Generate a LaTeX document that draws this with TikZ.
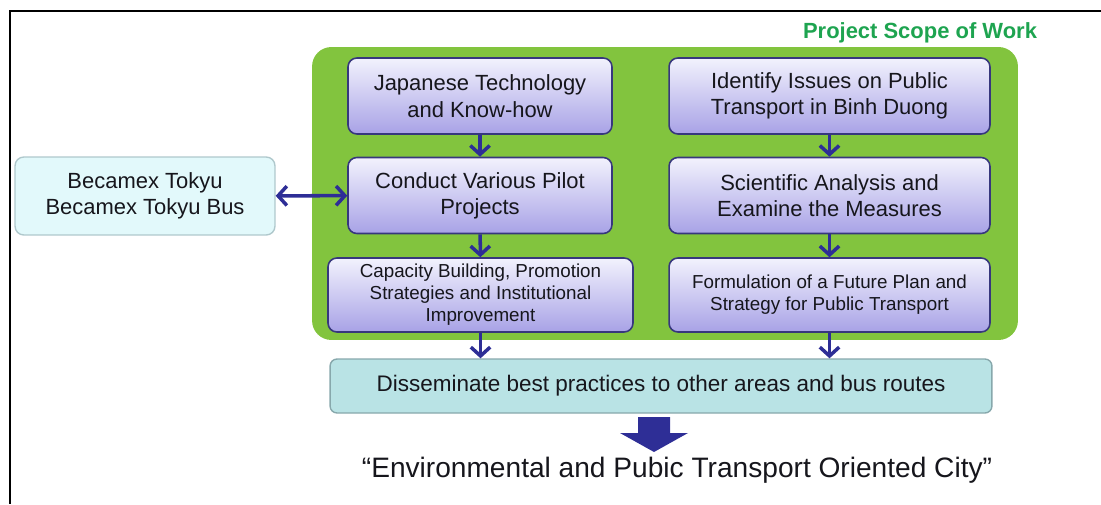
\documentclass[tikz,border=0pt]{standalone}
\usepackage{fontspec}
\setmainfont{Liberation Sans}
\usetikzlibrary{arrows.meta}

\definecolor{scopegreen}{RGB}{130,196,62}
\definecolor{titlegreen}{RGB}{30,164,80}
\definecolor{arrblue}{RGB}{46,46,150}
\definecolor{boxtop}{RGB}{242,242,253}
\definecolor{boxbot}{RGB}{168,162,230}
\definecolor{boxline}{RGB}{55,55,125}
\definecolor{partner}{RGB}{226,249,251}
\definecolor{partnerline}{RGB}{175,200,204}
\definecolor{spread}{RGB}{185,227,229}
\definecolor{spreadline}{RGB}{135,168,172}
\definecolor{ink}{RGB}{22,22,28}

\tikzset{
  task/.style={draw=boxline, line width=0.9pt, rounded corners=5pt,
    top color=boxtop, bottom color=boxbot, align=center, text=ink,
    font=\fontsize{12.5}{15}\selectfont, minimum width=5.28cm,
    minimum height=1.52cm, inner sep=2pt},
  smalltask/.style={task, font=\fontsize{10.7}{12.5}\selectfont,
    minimum height=1.48cm},
  partnerbox/.style={draw=partnerline, line width=0.8pt, rounded corners=5pt,
    fill=partner, align=center, text=ink,
    font=\fontsize{12.5}{15}\selectfont, minimum width=5.2cm,
    minimum height=1.56cm},
  spreadbox/.style={draw=spreadline, line width=0.8pt, rounded corners=4pt,
    fill=spread, text=ink, font=\fontsize{12.8}{15}\selectfont,
    minimum width=13.24cm, minimum height=1.08cm},
  barb/.tip={Straight Barb[length=5pt,width=11pt,line width=2pt]},
  conn/.style={draw=arrblue, line width=2pt, -barb},
}

\begin{document}
\begin{tikzpicture}[x=0.02cm, y=-0.02cm]
\useasboundingbox (0,0) rectangle (1101,504);
% frame
\draw[line width=1.5pt] (1101,11)--(10,11)--(10,504);

% scope of work
\node[fill=scopegreen, rounded corners=11pt, minimum width=14.12cm,
  minimum height=5.86cm] (scope) at (665,193.5) {};
\node[text=titlegreen, font=\bfseries\fontsize{12.5}{15}\selectfont]
  (title) at (920,33) {Project Scope of Work};

\node[task] (tech) at (480,96) {Japanese Technology\\and Know-how};
\node[task] (pilot) at (480,195.5) {Conduct Various Pilot\\Projects};
\node[smalltask, minimum width=6.1cm] (capacity) at (480.5,295)
  {Capacity Building, Promotion\\Strategies and Institutional\\Improvement};
\node[task, minimum width=6.42cm] (issues) at (829.5,96)
  {Identify Issues on Public\\Transport in Binh Duong};
\node[task, minimum width=6.42cm] (analysis) at (829.5,195.5)
  {Scientific Analysis and\\Examine the Measures};
\node[smalltask, minimum width=6.42cm] (plan) at (829.5,295)
  {Formulation of a Future Plan and\\Strategy for Public Transport};

\node[partnerbox] (partner) at (145,196) {Becamex Tokyu\\Becamex Tokyu Bus};
\node[spreadbox] (spread) at (661,386)
  {Disseminate best practices to other areas and bus routes};

\draw[conn] (tech)--(pilot);
\draw[conn] (pilot)--(capacity);
\draw[conn] (issues)--(analysis);
\draw[conn] (analysis)--(plan);
\draw[conn] (capacity.south)--(capacity.south |- spread.north);
\draw[conn] (plan.south)--(plan.south |- spread.north);
\draw[conn, barb-barb] (partner)--(pilot);

% outcome
\fill[arrblue] (638,417)--(670,417)--(670,433)--(688,433)--(654,452)
  --(620,433)--(638,433)--cycle;
\node[text=ink, font=\fontsize{16}{18}\selectfont] (goal) at (677,470)
  {“Environmental and Pubic Transport Oriented City”};
\end{tikzpicture}
\end{document}
